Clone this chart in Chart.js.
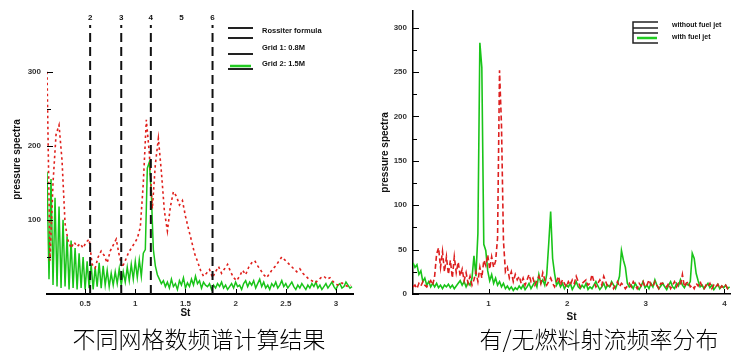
<!DOCTYPE html>
<html>
<head>
<meta charset="utf-8">
<script src="https://cdn.jsdelivr.net/npm/chart.js@4.4.1/dist/chart.umd.min.js"></script>
<style>
body { margin: 0; background: #fff; width: 733px; height: 361px; overflow: hidden; position: relative; }
canvas { position: absolute; top: 0; }
#left { left: 0; }
#right { left: 365px; }
.cap { position: absolute; top: 326px; font-family: "Noto Sans CJK SC"; font-weight: 300; font-size: 23px; line-height: 24px; color: #000; text-align: center; white-space: nowrap; }
</style>
</head>
<body>
<canvas id="left" width="365" height="326"></canvas>
<canvas id="right" width="368" height="326"></canvas>
<div class="cap" style="left:49px;width:300px">不同网格数频谱计算结果</div>
<div class="cap" style="left:449px;width:300px">有/无燃料射流频率分布</div>
<script>
// ---- left chart: grid comparison ----
const rossiterModes = ['2', '3', '4', '5', '6'];
const rossiterSt = [0.55, 0.86, 1.155, 1.46, 1.77];
const rossiterShown = ['2', '3', '4', '6'];   // mode 5 has no line in the original

const leftXTicks = [0.5, 1, 1.5, 2, 2.5, 3];
const leftYTicks = [50, 100, 150, 200, 250, 300];
const leftYLabels = [100, 200, 300];

// Grid 1 (red dotted), St = 0.12 + 0.03*i
const grid1Start = 0.12, grid1Step = 0.03;
const grid1 = [
  300, 45, 150, 215, 228, 180, 95, 72, 62, 70,
  64, 68, 62, 70, 74, 40, 35, 50, 58, 52,
  42, 58, 66, 74, 52, 36, 45, 55, 62, 68,
  75, 90, 150, 235, 190, 115, 175, 210, 165, 112,
  85, 118, 138, 132, 120, 126, 105, 88, 72, 55,
  44, 32, 24, 28, 33, 22, 30, 37, 28, 34,
  40, 30, 22, 18, 24, 32, 26, 36, 42, 45,
  38, 32, 26, 22, 28, 34, 38, 44, 50, 46,
  42, 38, 34, 30, 34, 28, 24, 20, 18, 15,
  18, 22, 24, 20, 22, 17, 13, 12, 15, 12,
  10, 12
];

// Grid 2 (green), St = 0.12 + 0.02*i
const grid2Start = 0.12, grid2Step = 0.02;
const grid2 = [
  165, 20, 155, 12, 130, 10, 118, 8, 100, 10,
  78, 6, 72, 8, 62, 6, 55, 8, 50, 6,
  44, 8, 40, 6, 36, 10, 42, 8, 38, 12,
  32, 10, 28, 12, 30, 14, 34, 12, 30, 16,
  36, 18, 40, 20, 44, 22, 46, 24, 55, 60,
  170, 178, 135, 60, 38, 26, 20, 14, 18, 10,
  16, 8, 20, 10, 14, 6, 18, 12, 22, 8,
  15, 10, 20, 12, 24, 14, 18, 8, 16, 12,
  10, 14, 6, 12, 8, 14, 10, 16, 8, 12,
  6, 10, 14, 8, 16, 10, 12, 6, 14, 18,
  10, 16, 12, 18, 8, 14, 20, 10, 16, 8,
  12, 6, 14, 10, 16, 8, 12, 18, 10, 14,
  8, 12, 16, 10, 6, 12, 8, 14, 10, 6,
  12, 8, 14, 10, 16, 8, 12, 6, 10, 14,
  8, 12, 16, 10, 6, 12, 14, 8, 10, 16,
  12, 8, 10
];

// ---- right chart: with / without fuel jet, St = 0.04 + 0.025*i ----
const jetStart = 0.04, jetStep = 0.025;
const rightXTicks = [1, 2, 3, 4];
const rightYTicks = [0, 25, 50, 75, 100, 125, 150, 175, 200, 225, 250, 275, 300];

const withoutJet = [
  8, 10, 6, 12, 9, 14, 10, 8, 12, 15,
  10, 20, 45, 52, 30, 48, 25, 42, 22, 38,
  18, 42, 24, 36, 20, 28, 15, 24, 12, 20,
  10, 16, 25, 14, 30, 18, 38, 32, 44, 28,
  42, 30, 37, 63, 252, 190, 60, 25, 30, 18,
  25, 14, 22, 16, 20, 12, 18, 10, 16, 22,
  14, 18, 10, 15, 20, 12, 24, 16, 10, 14,
  18, 12, 8, 14, 20, 10, 16, 12, 8, 14,
  10, 16, 12, 20, 14, 8, 12, 14, 16, 10,
  12, 22, 14, 8, 12, 16, 10, 20, 14, 8,
  8, 12, 6, 10, 14, 8, 12, 10, 6, 9,
  12, 8, 14, 10, 6, 12, 9, 14, 8, 10,
  16, 10, 8, 14, 10, 6, 12, 12, 10, 8,
  12, 6, 10, 14, 8, 12, 10, 22, 8, 12,
  14, 8, 10, 6, 12, 9, 14, 8, 6, 10,
  8, 12, 6, 10, 8, 11, 6, 9, 7, 10,
  6, 8
];

const withJet = [
  35, 30, 33, 22, 26, 14, 18, 10, 14, 8,
  12, 8, 12, 7, 10, 6, 10, 8, 11, 7,
  10, 6, 9, 12, 15, 10, 14, 8, 13, 10,
  18, 43, 20, 68, 283, 255, 56, 49, 26, 15,
  22, 12, 18, 10, 14, 8, 12, 6, 9, 5,
  8, 4, 7, 5, 9, 6, 10, 5, 8, 12,
  6, 10, 14, 8, 22, 12, 16, 10, 22, 56,
  93, 40, 23, 10, 14, 8, 12, 6, 10, 8,
  12, 5, 9, 14, 8, 6, 10, 7, 12, 5,
  8, 6, 10, 14, 9, 5, 8, 12, 6, 10,
  8, 14, 10, 6, 12, 20, 49, 38, 30, 12,
  8, 10, 6, 12, 8, 5, 9, 14, 7, 10,
  6, 12, 8, 16, 10, 6, 9, 12, 8, 5,
  10, 14, 8, 6, 12, 9, 16, 10, 7, 12,
  10, 14, 46, 40, 23, 15, 8, 10, 6, 9,
  12, 7, 10, 5, 8, 11, 6, 9, 7, 10,
  6, 8
];

const tickFont = { family: 'Liberation Sans', size: 8, weight: 'bold' };
const titleFont = { family: 'Liberation Sans', size: 10, weight: 'bold' };

function onGrid(values, start, step) {
  return values.map((v, i) => ({ x: +(start + i * step).toFixed(4), y: v }));
}

// tick marks drawn inward, Tecplot style
const innerTicks = {
  id: 'innerTicks',
  afterDatasetsDraw(chart, args, opts) {
    const { ctx, chartArea: a, scales: { x, y } } = chart;
    ctx.save();
    ctx.strokeStyle = '#000';
    ctx.lineWidth = 1;
    ctx.beginPath();
    x.ticks.forEach(t => {
      const px = Math.round(x.getPixelForValue(t.value)) + 0.5;
      ctx.moveTo(px, a.bottom);
      ctx.lineTo(px, a.bottom - 5);
    });
    y.ticks.forEach(t => {
      const py = Math.round(y.getPixelForValue(t.value)) + 0.5;
      const len = opts.labelled.includes(t.value) ? 6 : 4;
      ctx.moveTo(a.left, py);
      ctx.lineTo(a.left + len, py);
    });
    ctx.stroke();
    ctx.restore();
  }
};

function hline(ctx, x1, x2, y, color, w) {
  ctx.strokeStyle = color;
  ctx.lineWidth = w;
  ctx.beginPath();
  ctx.moveTo(x1, y);
  ctx.lineTo(x2, y);
  ctx.stroke();
}

const leftDecor = {
  id: 'leftDecor',
  afterDraw(chart) {
    const { ctx, scales: { x } } = chart;
    ctx.save();
    ctx.fillStyle = '#111';
    ctx.textAlign = 'center';
    ctx.textBaseline = 'middle';
    ctx.font = 'bold 8px "Liberation Sans"';
    rossiterModes.forEach((m, i) => ctx.fillText(m, x.getPixelForValue(rossiterSt[i]), 18));
    ctx.font = 'bold 10px "Liberation Sans"';
    ctx.fillText('St', x.getPixelForValue(1.5), 313);

    // legend
    hline(ctx, 228, 253, 28, '#222', 2);
    hline(ctx, 228, 253, 38, '#222', 2);
    hline(ctx, 228, 253, 54, '#222', 2);
    hline(ctx, 228, 253, 69, '#222', 2);
    hline(ctx, 230, 251, 66, '#22cc22', 2.5);
    ctx.textAlign = 'left';
    ctx.font = 'bold 7.5px "Liberation Sans"';
    ctx.fillText('Rossiter formula', 262, 31);
    ctx.fillText('Grid 1: 0.8M', 262, 48);
    ctx.fillText('Grid 2: 1.5M', 262, 64);
    ctx.restore();
  }
};

const rightDecor = {
  id: 'rightDecor',
  afterDraw(chart) {
    const ctx = chart.ctx;
    ctx.save();
    ctx.strokeStyle = '#222';
    ctx.lineWidth = 1.5;
    ctx.beginPath();
    ctx.moveTo(293, 22); ctx.lineTo(268, 22); ctx.lineTo(268, 43); ctx.lineTo(293, 43);
    ctx.moveTo(268, 28); ctx.lineTo(293, 28);
    ctx.moveTo(268, 33); ctx.lineTo(293, 33);
    ctx.stroke();
    hline(ctx, 272, 292, 38, '#22cc22', 2.5);
    ctx.fillStyle = '#111';
    ctx.textAlign = 'left';
    ctx.textBaseline = 'middle';
    ctx.font = 'bold 7px "Liberation Sans"';
    ctx.fillText('without fuel jet', 307, 25);
    ctx.fillText('with fuel jet', 307, 37);
    ctx.restore();
  }
};

const rossiterSets = rossiterShown.map(m => {
  const s = rossiterSt[rossiterModes.indexOf(m)];
  return {
    data: [{ x: s, y: 0 }, { x: s, y: 363 }],
    borderColor: '#111', borderWidth: 2, borderDash: [9, 5]
  };
});

new Chart(document.getElementById('left'), {
  type: 'line',
  data: {
    datasets: [
      ...rossiterSets,
      { data: onGrid(grid1, grid1Start, grid1Step), borderColor: '#e0201c', borderWidth: 1.6, borderDash: [2.5, 3] },
      { data: onGrid(grid2, grid2Start, grid2Step), borderColor: '#19c419', borderWidth: 1.5 }
    ]
  },
  options: {
    responsive: false,
    animation: false,
    layout: { padding: { left: 0, right: 12, top: 25, bottom: 0 } },
    elements: { point: { radius: 0 }, line: { tension: 0 } },
    plugins: { legend: { display: false }, tooltip: { enabled: false }, innerTicks: { labelled: leftYLabels } },
    scales: {
      x: {
        type: 'linear', min: 0.12, max: 3.17,
        afterBuildTicks: s => { s.ticks = leftXTicks.map(v => ({ value: v })); },
        afterFit: s => { s.height = 32; },
        grid: { display: false, drawTicks: false },
        border: { color: '#000', width: 2 },
        ticks: { padding: 5, font: tickFont, color: '#333', maxRotation: 0, autoSkip: false, callback: v => String(v) }
      },
      y: {
        min: 0, max: 363,
        afterBuildTicks: s => { s.ticks = leftYTicks.map(v => ({ value: v })); },
        afterFit: s => { s.width = 47; },
        grid: { display: false, drawTicks: false },
        border: { display: false },
        ticks: { padding: 6, font: tickFont, color: '#333', callback: v => leftYLabels.includes(v) ? String(v) : '' },
        title: { display: true, text: 'pressure spectra', font: titleFont, color: '#111', padding: { top: 11 } }
      }
    }
  },
  plugins: [innerTicks, leftDecor]
});

new Chart(document.getElementById('right'), {
  type: 'line',
  data: {
    datasets: [
      { data: onGrid(withoutJet, jetStart, jetStep), borderColor: '#dd1f1f', borderWidth: 1.6, borderDash: [5, 3] },
      { data: onGrid(withJet, jetStart, jetStep), borderColor: '#19c419', borderWidth: 1.6 }
    ]
  },
  options: {
    responsive: false,
    animation: false,
    layout: { padding: { left: 0, right: 3, top: 5, bottom: 0 } },
    elements: { point: { radius: 0 }, line: { tension: 0 } },
    plugins: { legend: { display: false }, tooltip: { enabled: false }, innerTicks: { labelled: [0, 50, 100, 150, 200, 250, 300] } },
    scales: {
      x: {
        type: 'linear', min: 0.04, max: 4.07,
        afterBuildTicks: s => { s.ticks = rightXTicks.map(v => ({ value: v })); },
        afterFit: s => { s.height = 32; },
        grid: { display: false, drawTicks: false },
        border: { color: '#000', width: 1.5 },
        ticks: { padding: 5, font: tickFont, color: '#333', maxRotation: 0, autoSkip: false, callback: v => String(v) },
        title: { display: true, text: 'St', font: titleFont, color: '#111', padding: { top: 0, bottom: 3 } }
      },
      y: {
        min: 0, max: 319,
        afterBuildTicks: s => { s.ticks = rightYTicks.map(v => ({ value: v })); },
        afterFit: s => { s.width = 48; },
        grid: { display: false, drawTicks: false },
        border: { color: '#000', width: 1.5 },
        ticks: { padding: 6, font: tickFont, color: '#333', callback: v => v % 50 === 0 ? String(v) : '' },
        title: { display: true, text: 'pressure spectra', font: titleFont, color: '#111', padding: { top: 14 } }
      }
    }
  },
  plugins: [innerTicks, rightDecor]
});
</script>
</body>
</html>
